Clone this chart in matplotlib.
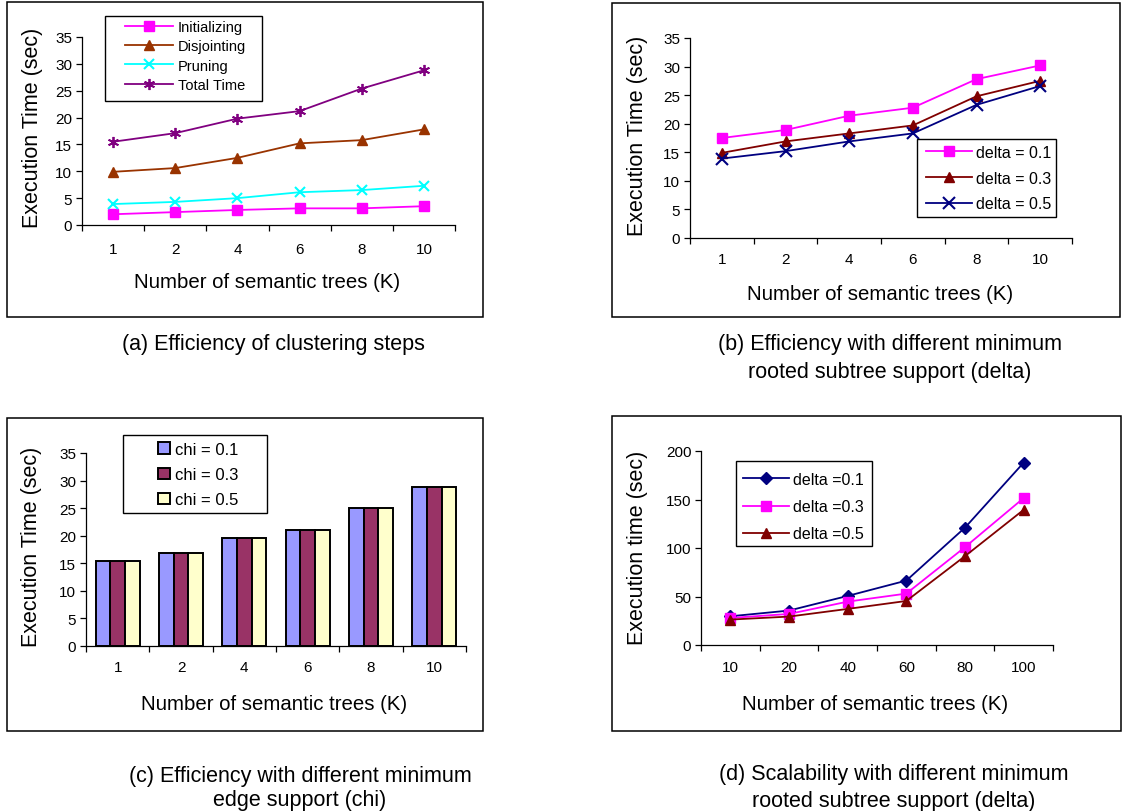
import numpy as np
import matplotlib
matplotlib.use('Agg')
import matplotlib.pyplot as plt
from matplotlib.patches import Rectangle

plt.rcParams['font.family'] = ['Liberation Sans', 'DejaVu Sans']

# ---- data ----
k_labels = ['1', '2', '4', '6', '8', '10']
k_labels_d = ['10', '20', '40', '60', '80', '100']

# (a) clustering steps
initializing = [2.0, 2.4, 2.8, 3.1, 3.1, 3.5]
disjointing = [9.9, 10.6, 12.5, 15.2, 15.8, 17.8]
pruning = [3.9, 4.3, 5.0, 6.1, 6.5, 7.3]
total_time = [15.5, 17.1, 19.8, 21.2, 25.4, 28.8]

# (b) different delta
b_delta01 = [17.5, 18.9, 21.4, 22.8, 27.8, 30.2]
b_delta03 = [14.9, 16.9, 18.3, 19.7, 24.8, 27.5]
b_delta05 = [13.9, 15.2, 16.9, 18.3, 23.3, 26.6]

# (c) different chi
chi01 = [15.5, 16.9, 19.6, 21.0, 25.0, 28.8]
chi03 = [15.5, 16.9, 19.6, 21.0, 25.0, 28.8]
chi05 = [15.5, 16.9, 19.6, 21.0, 25.0, 28.8]

# (d) scalability
d_delta01 = [29.6, 35.5, 50.6, 66.4, 121.0, 188.0]
d_delta03 = [27.9, 32.0, 44.7, 53.0, 100.9, 151.5]
d_delta05 = [26.2, 29.3, 37.2, 45.4, 91.6, 139.4]

W, H = 1122, 812
fig = plt.figure(figsize=(W / 100, H / 100), dpi=100)


def rect_px(l, t, r, b):
    return [l / W, 1 - b / H, (r - l) / W, (b - t) / H]


def frame(l, t, r, b):
    fig.patches.append(Rectangle((l / W, 1 - b / H), (r - l) / W, (b - t) / H,
                                 transform=fig.transFigure, fill=False,
                                 edgecolor='black', linewidth=1.1))


def ftext(x, y, s, **kw):
    fig.text(x / W, 1 - y / H, s, ha='center', va='center', **kw)


def style_axes(ax, labels, ymax, ystep, xpad):
    x = np.arange(len(labels))
    ax.set_xlim(-0.5, len(labels) - 0.5)
    ax.set_ylim(0, ymax)
    ax.set_yticks(np.arange(0, ymax + 1, ystep))
    ax.set_xticks(x)
    ax.set_xticklabels(labels)
    ax.set_xticks(np.arange(-0.5, len(labels), 1), minor=True)
    for s in ['top', 'right']:
        ax.spines[s].set_visible(False)
    for s in ['left', 'bottom']:
        ax.spines[s].set_linewidth(0.9)
    ax.tick_params(axis='x', which='major', length=0, pad=xpad, labelsize=11)
    ax.tick_params(axis='x', which='minor', length=4, width=0.9, direction='out')
    ax.tick_params(axis='y', length=4, width=0.9, direction='out', pad=3, labelsize=11)


def legend_box(ax, handles, labels, l, t, r, b, ax_x, ax_y, fs, **kw):
    # white box with black border, drawn under the legend entries
    ax.add_patch(Rectangle((l / W, 1 - b / H), (r - l) / W, (b - t) / H,
                           transform=fig.transFigure, clip_on=False,
                           facecolor='white', edgecolor='black', linewidth=1.0, zorder=4))
    leg = ax.legend(handles, labels, loc='upper left', bbox_to_anchor=(ax_x / W, 1 - ax_y / H),
                    bbox_transform=fig.transFigure, frameon=False, borderpad=0,
                    borderaxespad=0, fontsize=fs, **kw)
    leg.set_zorder(6)


x = np.arange(6)
lw = 1.3

# ---------- (a) ----------
frame(7, 3, 483, 318)
ax1 = fig.add_axes(rect_px(82, 38, 455, 226))
h1 = ax1.plot(x, initializing, color='#FF00FF', marker='s', ms=6.5, lw=lw)[0]
h2 = ax1.plot(x, disjointing, color='#993300', marker='^', ms=7, lw=lw)[0]
h3 = ax1.plot(x, pruning, color='#00FFFF', marker='x', ms=7, mew=1.5, lw=lw)[0]
h4 = ax1.plot(x, total_time, color='#800080', marker=(6, 2, 0), ms=8, mew=1.3, lw=lw)[0]
style_axes(ax1, k_labels, 35, 5, 12)
legend_box(ax1, [h1, h2, h3, h4], ['Initializing', 'Disjointing', 'Pruning', 'Total Time'],
           105, 17, 262, 102, 125, 21, 10.5, handlelength=3.3, handletextpad=0.3,
           labelspacing=0.36)
ftext(33, 128, 'Execution Time (sec)', rotation=90, fontsize=15.5)
ftext(267, 283, 'Number of semantic trees (K)', fontsize=14.7)
ftext(273, 345, '(a) Efficiency of clustering steps', fontsize=15.5)

# ---------- (b) ----------
frame(612, 4, 1120, 318)
ax2 = fig.add_axes(rect_px(690, 39, 1072, 239))
g1 = ax2.plot(x, b_delta01, color='#FF00FF', marker='s', ms=6.5, lw=lw)[0]
g2 = ax2.plot(x, b_delta03, color='#800000', marker='^', ms=7.5, lw=lw)[0]
g3 = ax2.plot(x, b_delta05, color='#000080', marker='x', ms=8, mew=1.5, lw=lw)[0]
style_axes(ax2, k_labels, 35, 5, 10)
legend_box(ax2, [g1, g2, g3], ['delta = 0.1', 'delta = 0.3', 'delta = 0.5'],
           917, 140, 1056, 218, 926, 146, 11.5, handlelength=2.9, handletextpad=0.2,
           labelspacing=0.67)
ftext(637, 136, 'Execution Time (sec)', rotation=90, fontsize=15.5)
ftext(880, 295, 'Number of semantic trees (K)', fontsize=14.7)
ftext(890, 345, '(b) Efficiency with different minimum', fontsize=15.5)
ftext(890, 373, 'rooted subtree support (delta)', fontsize=15.5)

# ---------- (c) ----------
frame(7, 419, 483, 732)
ax3 = fig.add_axes(rect_px(86, 454, 466, 647))
bw = 0.232
b1 = ax3.bar(x - bw, chi01, bw, color='#9999FF', edgecolor='black', linewidth=1.4)
b2 = ax3.bar(x, chi03, bw, color='#993366', edgecolor='black', linewidth=1.4)
b3 = ax3.bar(x + bw, chi05, bw, color='#FFFFCC', edgecolor='black', linewidth=1.4)
style_axes(ax3, k_labels, 35, 5, 10)
legend_box(ax3, [b1, b2, b3], ['chi = 0.1', 'chi = 0.3', 'chi = 0.5'],
           123, 436, 267, 514, 158, 443, 12, handlelength=0.7, handleheight=0.7,
           handletextpad=0.3, labelspacing=0.61)
ftext(32, 547, 'Execution Time (sec)', rotation=90, fontsize=15.5)
ftext(274, 705, 'Number of semantic trees (K)', fontsize=14.7)
ftext(300, 777, '(c) Efficiency with different minimum', fontsize=15.5)
ftext(300, 801, 'edge support (chi)', fontsize=15.5)

# ---------- (d) ----------
frame(612, 417, 1121, 732)
ax4 = fig.add_axes(rect_px(701, 452, 1053, 646))
e1 = ax4.plot(x, d_delta01, color='#000080', marker='D', ms=6, lw=lw)[0]
e2 = ax4.plot(x, d_delta03, color='#FF00FF', marker='s', ms=6.5, lw=lw)[0]
e3 = ax4.plot(x, d_delta05, color='#800000', marker='^', ms=7.5, lw=lw)[0]
style_axes(ax4, k_labels_d, 200, 50, 11)
legend_box(ax4, [e1, e2, e3], ['delta =0.1', 'delta =0.3', 'delta =0.5'],
           736, 462, 872, 547, 743, 473, 11.5, handlelength=2.9, handletextpad=0.2,
           labelspacing=0.76)
ftext(637, 548, 'Execution time (sec)', rotation=90, fontsize=15.5)
ftext(875, 704, 'Number of semantic trees (K)', fontsize=14.7)
ftext(894, 775, '(d) Scalability with different minimum', fontsize=15.5)
ftext(894, 802, 'rooted subtree support (delta)', fontsize=15.5)

fig.savefig('out.png', dpi=100)
